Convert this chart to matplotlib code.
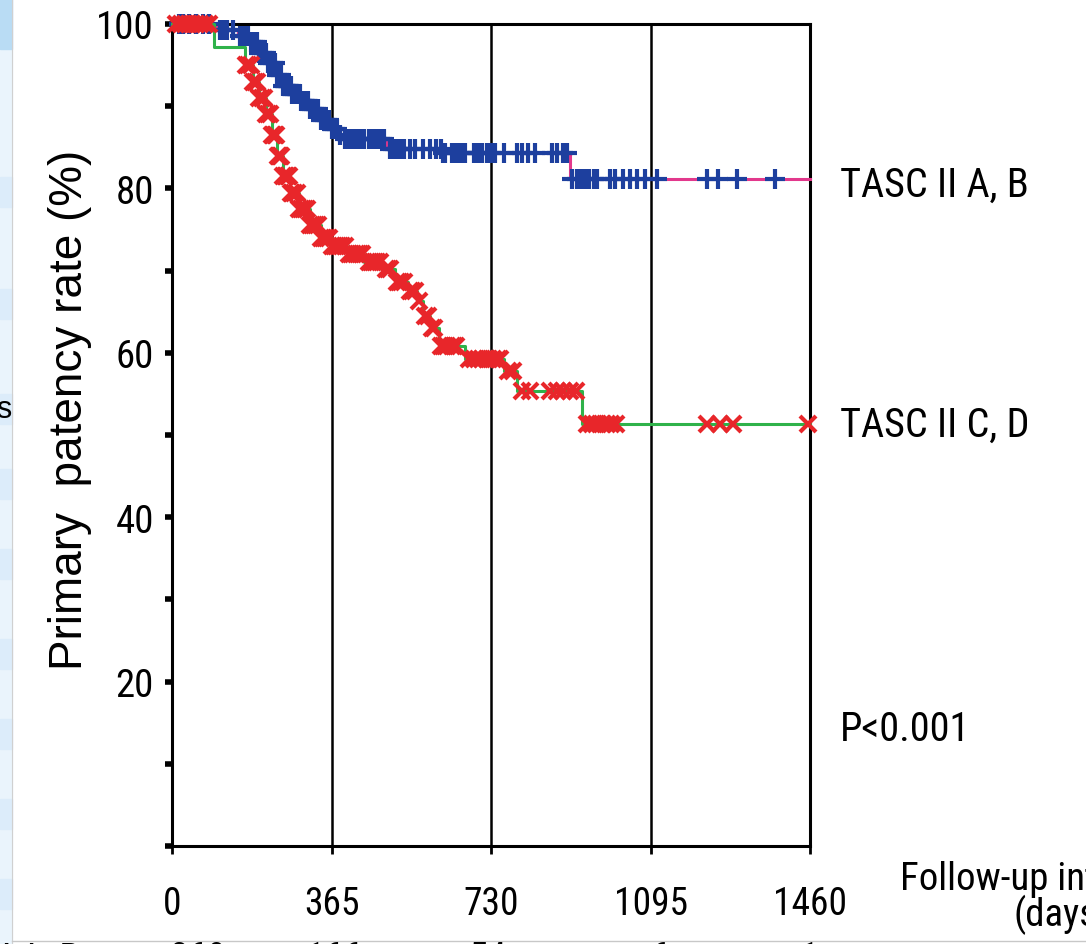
import numpy as np
import matplotlib
matplotlib.use("Agg")
import matplotlib.pyplot as plt
from matplotlib.patches import Rectangle

# ---------------- data ----------------
ab_times = [0, 100, 150, 178, 200, 220, 240, 254, 275, 295, 316, 340, 361, 380, 391, 492, 620, 911]
ab_surv = [100, 99.3, 98.5, 97.8, 96.5, 95.3, 93.8, 92.5, 91.5, 90.6, 89.7, 88.3, 87.2, 86.5, 86.0, 84.8, 84.3, 81.1]
ab_censor = [15, 25, 40, 55, 70, 85, 110, 118, 125, 140, 155, 165, 170, 175, 180, 185, 190, 195, 200,
             205, 210, 215, 220, 225, 230, 235, 240, 245, 250, 255, 258, 262, 265, 268, 272, 275, 278,
             282, 285, 288, 292, 295, 298, 302, 305, 308, 312, 316, 320, 325, 330, 335, 340, 345, 350,
             355, 360, 365, 368, 372, 378, 385, 395, 400, 405, 410, 415, 420, 425, 430, 440, 450, 455,
             460, 465, 470, 475, 480, 485, 498, 505, 510, 515, 520, 525, 530, 545, 555, 575, 590, 605,
             615, 620, 625, 640, 650, 660, 665, 670, 690, 700, 705, 710, 720, 730, 740, 760, 790, 800,
             815, 830, 870, 880, 895, 905, 915, 927, 935, 945, 955, 965, 972, 1002, 1014, 1032, 1048,
             1064, 1082, 1110, 1224, 1249, 1293, 1380]

cd_times = [0, 95, 167, 185, 200, 215, 228, 240, 255, 270, 290, 315, 340, 365, 400, 440, 480, 510,
            540, 560, 575, 590, 610, 670, 760, 790, 938]
cd_surv = [100, 97.2, 95, 93, 91, 89, 86.5, 84, 81.5, 79.5, 77.5, 75.5, 74, 73, 72, 71, 70.2, 68.6,
           67.5, 66.3, 64.5, 63, 60.8, 59.2, 57.8, 55.4, 51.3]
cd_censor = [10, 20, 30, 38, 45, 55, 65, 75, 85, 170, 175, 180, 185, 190, 195, 200, 205, 210, 215,
             220, 225, 228, 232, 235, 238, 242, 245, 248, 250, 255, 258, 262, 265, 268, 272, 275, 280,
             285, 290, 295, 300, 305, 310, 315, 320, 325, 330, 335, 340, 345, 350, 355, 360, 365, 370,
             375, 380, 385, 390, 395, 405, 410, 415, 420, 425, 430, 435, 450, 455, 460, 465, 470, 475,
             490, 495, 500, 515, 520, 525, 530, 545, 550, 555, 565, 580, 585, 595, 600, 615, 620, 625,
             630, 640, 645, 650, 680, 690, 700, 710, 720, 725, 735, 745, 750, 770, 780, 800, 820, 865,
             880, 895, 910, 925, 950, 960, 970, 985, 995, 1005, 1015, 1224, 1254, 1284, 1455]

x_ticks = [0, 365, 730, 1095, 1460]
y_ticks_labelled = [20, 40, 60, 80, 100]
group_labels = ["TASC II A, B", "TASC II C, D"]
at_risk_ab = ["369", "166", "54", "6", "1"]
x_max = 1460

# ---------------- style ----------------
NARROW = ["Liberation Sans Narrow", "Roboto Condensed", "Liberation Sans"]
REG = ["Liberation Sans", "DejaVu Sans"]
plt.rcParams["font.family"] = NARROW

fig = plt.figure(figsize=(10.86, 9.45), dpi=100)
fig.patch.set_facecolor("white")

# left strip of the screenshot
fig.add_artist(Rectangle((0, 0), 12 / 1086, 1, transform=fig.transFigure, color="#eaf4fc", zorder=0))
fig.add_artist(Rectangle((0, 1 - 50 / 945), 12 / 1086, 50 / 945, transform=fig.transFigure,
                         color="#b9dcf4", zorder=0))
for yb in [178, 290, 395, 470, 550, 640, 720, 800, 880]:
    fig.add_artist(Rectangle((0, 1 - (yb + 30) / 945), 12 / 1086, 30 / 945, transform=fig.transFigure,
                             color="#dcecfa", zorder=0))
fig.add_artist(plt.Line2D([12 / 1086, 12 / 1086], [0, 1], transform=fig.transFigure,
                          color="#d0d0d0", lw=0.8))
fig.text(-0.004, 1 - 410 / 945, "s", fontsize=22, family=REG, va="center", ha="left")
fig.add_artist(plt.Line2D([12 / 1086, 1], [1 - 942 / 945] * 2, transform=fig.transFigure,
                          color="#c8c8c8", lw=1))

ax = fig.add_axes([172 / 1086, 1 - 847 / 945, (810 - 172) / 1086, (847 - 25) / 945])
ax.set_xlim(0, x_max)
ax.set_ylim(0, 100)

def surv_at(times, surv, t):
    idx = np.searchsorted(np.asarray(times), np.asarray(t), side="right") - 1
    return np.asarray(surv)[idx]

# curves
ab_t = ab_times + [x_max]
ab_s = ab_surv + [ab_surv[-1]]
cd_t = cd_times + [x_max]
cd_s = cd_surv + [cd_surv[-1]]

ax.step(ab_t, ab_s, where="post", color="#e2388c", lw=2.2, zorder=3, clip_on=False)
ax.plot(ab_censor, surv_at(ab_times, ab_surv, ab_censor), ls="none", marker="+", ms=14, mew=3.0,
        color="#1d3f9e", zorder=4, clip_on=False)
ax.step(cd_t, cd_s, where="post", color="#2fb24a", lw=2.2, zorder=5, clip_on=False)
ax.plot(cd_censor, surv_at(cd_times, cd_surv, cd_censor), ls="none", marker="x", ms=11, mew=3.0,
        color="#e8262a", zorder=6, clip_on=False)

# grid lines
for xv in x_ticks[1:-1]:
    ax.axvline(xv, color="black", lw=1.8, zorder=1)
for s in ["left", "bottom", "top", "right"]:
    ax.spines[s].set_linewidth(2.2)

ax.set_yticks(np.arange(0, 101, 10))
ax.set_yticklabels([str(v) if v in y_ticks_labelled else "" for v in range(0, 101, 10)])
ax.tick_params(axis="y", direction="out", length=5, width=4, labelsize=28, pad=8)
ax.set_xticks(x_ticks)
ax.set_xticklabels([str(v) for v in x_ticks])
ax.tick_params(axis="x", direction="out", length=6, width=2, labelsize=27, pad=22)

fig.text(70 / 1086, 1 - 410 / 945, "Primary  patency rate (%)", family=REG, fontsize=33,
         rotation=90, ha="center", va="center")

# right-hand labels
fig.text(840 / 1086, 1 - 185 / 945, group_labels[0], fontsize=29, va="center", ha="left")
fig.text(840 / 1086, 1 - 425 / 945, group_labels[1], fontsize=29, va="center", ha="left")
fig.text(840 / 1086, 1 - 730 / 945, "P<0.001", fontsize=29, va="center", ha="left")

fig.text(900 / 1086, 1 - 880 / 945, "Follow-up interval", fontsize=28, va="center", ha="left")
fig.text(1013 / 1086, 1 - 915 / 945, "(days)", fontsize=28, va="center", ha="left")

# partially visible at-risk row
fig.text(-8 / 1086, 1 - 960 / 945, "II A, B", fontsize=28, va="center", ha="left")
for xp, lab in zip([198, 335, 487, 660, 810], at_risk_ab):
    fig.text(xp / 1086, 1 - 960 / 945, lab, fontsize=28, va="center", ha="center")

fig.savefig("out.png", dpi=100, facecolor="white")
